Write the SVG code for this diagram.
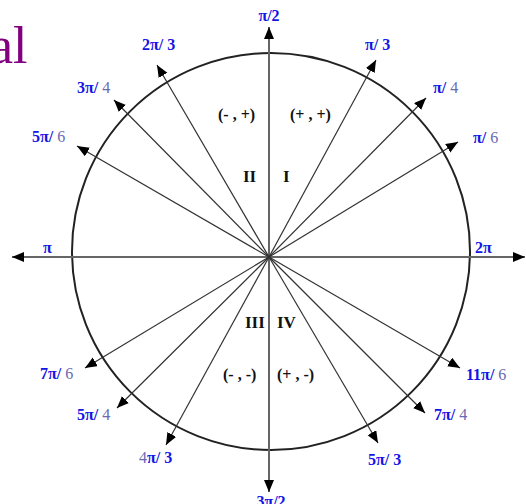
<svg xmlns="http://www.w3.org/2000/svg" width="526" height="504" viewBox="0 0 526 504">
<style>
.ray{stroke:#333;stroke-width:1.2;fill:none}
.axis{stroke:#666;stroke-width:2;fill:none}
.lb{font-family:"Liberation Serif",serif;font-weight:bold;font-size:16px;fill:#1414e6}
.dg{font-weight:normal;fill:#6a6ab4}
.q{font-family:"Liberation Serif",serif;font-weight:bold;font-size:16px;fill:#111}
.rn{font-family:"Liberation Serif",serif;font-weight:bold;font-size:17px;fill:#111}
</style>
<defs>
<marker id="ah" markerUnits="userSpaceOnUse" markerWidth="14" markerHeight="12" refX="12" refY="5" orient="auto" viewBox="0 0 14 12">
<path d="M0,0 L12,5 L0,10 Z" fill="#000"/>
</marker>
</defs>
<rect width="526" height="504" fill="#fff"/>
<text x="-10" y="63" font-family="'Liberation Serif',serif" font-size="52" fill="#800080">al</text>
<g id="circle"><ellipse cx="271" cy="251.5" rx="199" ry="198.5" fill="none" stroke="#222" stroke-width="2"/></g>
<g id="connectors">
<line class="axis" x1="269" y1="257" x2="525" y2="257" marker-end="url(#ah)"/>
<line class="axis" x1="269" y1="257" x2="12" y2="257" marker-end="url(#ah)"/>
<line class="axis" x1="269" y1="257" x2="269" y2="27" marker-end="url(#ah)"/>
<line class="axis" x1="269" y1="257" x2="269" y2="492" marker-end="url(#ah)"/>
<line class="ray" x1="269" y1="257" x2="458" y2="142" marker-end="url(#ah)"/>
<line class="ray" x1="269" y1="257" x2="426" y2="98" marker-end="url(#ah)"/>
<line class="ray" x1="269" y1="257" x2="376" y2="60" marker-end="url(#ah)"/>
<line class="ray" x1="269" y1="257" x2="157" y2="65" marker-end="url(#ah)"/>
<line class="ray" x1="269" y1="257" x2="114" y2="100" marker-end="url(#ah)"/>
<line class="ray" x1="269" y1="257" x2="77" y2="146" marker-end="url(#ah)"/>
<line class="ray" x1="269" y1="257" x2="85" y2="368" marker-end="url(#ah)"/>
<line class="ray" x1="269" y1="257" x2="117" y2="408" marker-end="url(#ah)"/>
<line class="ray" x1="269" y1="257" x2="166" y2="445" marker-end="url(#ah)"/>
<line class="ray" x1="269" y1="257" x2="378" y2="443" marker-end="url(#ah)"/>
<line class="ray" x1="269" y1="257" x2="425" y2="413" marker-end="url(#ah)"/>
<line class="ray" x1="269" y1="257" x2="460" y2="368" marker-end="url(#ah)"/>
</g>
<g id="labels">
<text class="lb" x="269" y="21" text-anchor="middle">π/2</text>
<text class="lb" x="142" y="50">2π/ 3</text>
<text class="lb" x="77" y="93">3π/ <tspan class="dg">4</tspan></text>
<text class="lb" x="32" y="142">5π/ <tspan class="dg">6</tspan></text>
<text class="lb" x="365" y="50">π/ 3</text>
<text class="lb" x="433" y="93">π/ <tspan class="dg">4</tspan></text>
<text class="lb" x="473" y="143">π/ <tspan class="dg">6</tspan></text>
<text class="lb" x="43" y="253">π</text>
<text class="lb" x="475" y="253">2π</text>
<text class="lb" x="40" y="379">7π/ <tspan class="dg">6</tspan></text>
<text class="lb" x="77" y="420">5π/ <tspan class="dg">4</tspan></text>
<text class="lb" x="139" y="463"><tspan class="dg">4</tspan>π/ 3</text>
<text class="lb" x="271" y="507" text-anchor="middle">3π/2</text>
<text class="lb" x="466" y="380">11π/ <tspan class="dg">6</tspan></text>
<text class="lb" x="434" y="420">7π/ <tspan class="dg">4</tspan></text>
<text class="lb" x="368" y="465">5π/ 3</text>
</g>
<g id="quadrants">
<text class="q" x="218" y="120">(- , +)</text>
<text class="q" x="290" y="120">(+ , +)</text>
<text class="rn" x="243" y="182">II</text>
<text class="rn" x="283" y="182">I</text>
<text class="rn" x="245" y="328">III</text>
<text class="rn" x="277" y="328">IV</text>
<text class="q" x="223" y="380">(- , -)</text>
<text class="q" x="277" y="380">(+ , -)</text>
</g>
</svg>
